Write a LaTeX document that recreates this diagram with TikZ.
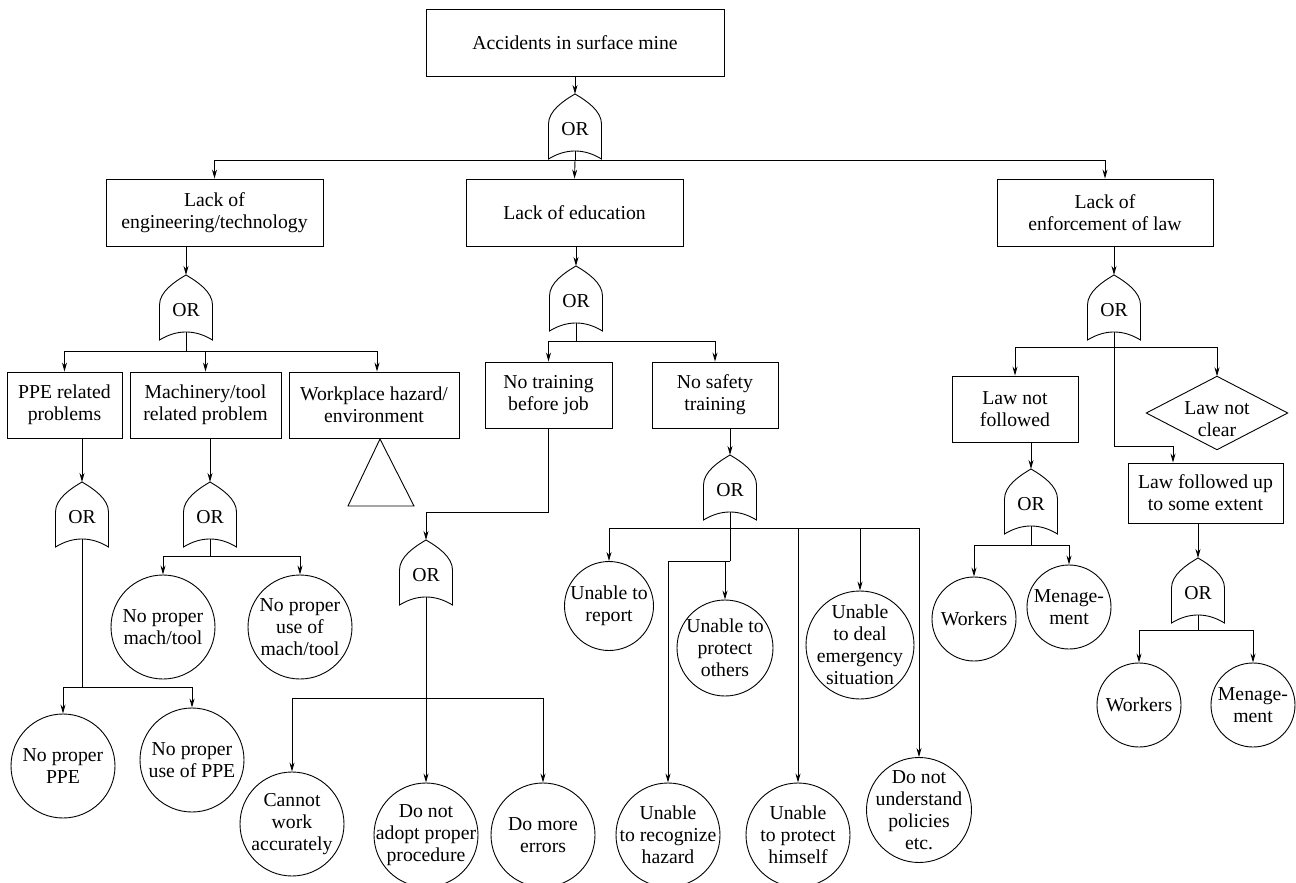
\documentclass[tikz,border=0pt]{standalone}
\usepackage{fontspec}
\setmainfont{Liberation Serif}
\newfontfamily\tms{Liberation Serif}
\usetikzlibrary{arrows.meta,calc}
\newcommand\fs{\tms\fontsize{19.8}{22}\selectfont}
\tikzset{
  ln/.style={line width=0.9bp},
  arr/.style={ln,-{Stealth[length=9bp,width=5bp]}},
  bx/.style={draw, ln, align=center, inner sep=0pt, font=\fs},
  evc/.style={draw, ln, circle, inner sep=0pt},
  evt/.style={align=center, inner sep=0pt, font=\fs},
  gtxt/.style={inner sep=0pt, font=\fs},
  orgate/.pic={
    \draw[ln] (-26.5,65) -- (-26.5,30) .. controls (-26.5,17) and (-12,7) .. (0,0)
      .. controls (12,7) and (26.5,17) .. (26.5,30) -- (26.5,65)
      .. controls (9,54.3) and (-9,54.3) .. cycle;
    \node[gtxt] (-lbl) at (0,35) {OR};
    \coordinate (-top) at (0,0);
    \coordinate (-bot) at (0,57);
  }
}
\begin{document}
\begin{tikzpicture}[x=1bp,y=-1bp]
\useasboundingbox (0,0) rectangle (1296,883);
\fill[white] (0,0) rectangle (1296,883);

% ---------- boxes ----------
\node[bx, minimum width=298bp, minimum height=67bp] (top) at (575,42.5) {Accidents in surface mine};
\node[bx, minimum width=217bp, minimum height=67bp] (eng) at (214.5,212.5) {Lack of\\engineering/technology};
\node[bx, minimum width=217bp, minimum height=67bp] (edu) at (574.5,212.5) {Lack of education};
\node[bx, minimum width=216bp, minimum height=67bp] (enf) at (1105,212.5) {Lack of\\enforcement of law};
\node[bx, minimum width=115bp, minimum height=66bp] (ppe) at (64.5,405) {PPE related\\problems};
\node[bx, minimum width=151bp, minimum height=66bp] (mach) at (205.5,405) {Machinery/tool\\related problem};
\node[bx, minimum width=170bp, minimum height=66bp] (work) at (374,405) {Workplace hazard/\\environment};
\node[bx, minimum width=127bp, minimum height=66bp] (ntr) at (548.5,395) {No training\\before job};
\node[bx, minimum width=126bp, minimum height=66bp] (nst) at (715,395) {No safety\\training};
\node[bx, minimum width=126bp, minimum height=66bp] (lnf) at (1015,409) {Law not\\followed};
\node[bx, minimum width=155bp, minimum height=60bp] (lfu) at (1205.5,493) {Law followed up\\to some extent};

% diamond
\node[minimum width=141bp, minimum height=73bp, inner sep=0pt] (lnc) at (1217,413) {};
\draw[ln] (lnc.north) -- (lnc.east) -- (lnc.south) -- (lnc.west) -- cycle;
\node[evt] (lnct) at ([yshift=-6bp]lnc.center) {Law not\\clear};

% triangle (transfer)
\coordinate (tri) at (380,439);
\draw[ln] (tri) -- ++(-32,67) -- ++(66,0) -- cycle;

% ---------- gates ----------
\pic (g0) at (575,94) {orgate};
\pic (g1) at (186,275) {orgate};
\pic (g2) at (82,482) {orgate};
\pic (g3) at (210,482) {orgate};
\pic (g4) at (576,266) {orgate};
\pic (g5) at (426,540) {orgate};
\pic (g6) at (730,455) {orgate};
\pic (g7) at (1114,275) {orgate};
\pic (g8) at (1031,469) {orgate};
\pic (g9) at (1198,558) {orgate};

% ---------- events (circles) ----------
\node[evc, minimum size=104bp] (c1) at (163,627) {};
\node[evt] (c1t) at (c1) {No proper\\mach/tool};
\node[evc, minimum size=104bp] (c2) at (300,627) {};
\node[evt] (c2t) at (c2) {No proper\\use of\\mach/tool};
\node[evc, minimum size=104bp] (c3) at (63,766) {};
\node[evt] (c3t) at (c3) {No proper\\PPE};
\node[evc, minimum size=104bp] (c4) at (192,760) {};
\node[evt] (c4t) at (c4) {No proper\\use of PPE};
\node[evc, minimum size=104bp] (c5) at (292,824) {};
\node[evt] (c5t) at (c5) {Cannot\\work\\accurately};
\node[evc, minimum size=104bp] (c6) at (426,835) {};
\node[evt] (c6t) at (c6) {Do not\\adopt proper\\procedure};
\node[evc, minimum size=104bp] (c7) at (543,835) {};
\node[evt] (c7t) at (c7) {Do more\\errors};
\node[evc, minimum size=89bp] (c8) at (609,606) {};
\node[evt] (c8t) at (c8) {Unable to\\report};
\node[evc, minimum size=96bp] (c9) at (725,648) {};
\node[evt] (c9t) at (c9) {Unable to\\protect\\others};
\node[evc, minimum size=104bp] (c10) at (668,835) {};
\node[evt] (c10t) at (c10) {Unable\\to recognize\\hazard};
\node[evc, minimum size=104bp] (c11) at (798,835) {};
\node[evt] (c11t) at (c11) {Unable\\to protect\\himself};
\node[evc, minimum size=108bp] (c12) at (860,645) {};
\node[evt] (c12t) at (c12) {Unable\\to deal\\emergency\\situation};
\node[evc, minimum size=105bp] (c13) at (919,810) {};
\node[evt] (c13t) at (c13) {Do not\\understand\\policies\\etc.};
\node[evc, minimum size=84bp] (c14) at (974,619) {};
\node[evt] (c14t) at (c14) {Workers};
\node[evc, minimum size=84bp] (c15) at (1069,607) {};
\node[evt] (c15t) at (c15) {Menage-\\ment};
\node[evc, minimum size=84bp] (c16) at (1139,705) {};
\node[evt] (c16t) at (c16) {Workers};
\node[evc, minimum size=84bp] (c17) at (1253,705) {};
\node[evt] (c17t) at (c17) {Menage-\\ment};

% ---------- bus coordinates ----------
\coordinate (b0) at (575,160);
\coordinate (b1) at (186,351);
\coordinate (b2) at (82,687);
\coordinate (b3) at (210,556);
\coordinate (b4) at (576,341);
\coordinate (b5) at (426,698);
\coordinate (b6) at (730,528);
\coordinate (j6) at (730,561);
\coordinate (b7) at (1114,347);
\coordinate (j7) at (1114,446);
\coordinate (b8) at (1031,545);
\coordinate (b9) at (1198,630);

% ---------- connectors ----------
\draw[arr] (top.south) -- (g0-top);
\draw[ln] (g0-bot) -- (b0);
\draw[arr] (b0) -| (eng.north);
\draw[arr] (b0) -| (enf.north);
\draw[arr] (b0) -- (edu.north);

\draw[arr] (eng.south -| g1-top) -- (g1-top);
\draw[ln] (g1-bot) -- (b1);
\draw[arr] (b1) -| (ppe.north);
\draw[arr] (b1) -| (mach.north);
\draw[arr] (b1) -| ([xshift=3bp]work.north);

\draw[arr] (ppe.south -| g2-top) -- (g2-top);
\draw[ln] (g2-bot) -- (b2);
\draw[arr] (b2) -| (c3.north);
\draw[arr] (b2) -| (c4.north);

\draw[arr] (mach.south -| g3-top) -- (g3-top);
\draw[ln] (g3-bot) -- (b3);
\draw[arr] (b3) -| (c1.north);
\draw[arr] (b3) -| (c2.north);

\draw[arr] (edu.south -| g4-top) -- (g4-top);
\draw[ln] (g4-bot) -- (b4);
\draw[arr] (b4) -| (ntr.north);
\draw[arr] (b4) -| (nst.north);

\draw[arr] (ntr.south) -- ++(0,84) -| (g5-top);
\draw[ln] (g5-bot) -- (b5);
\draw[arr] (b5) -| (c5.north);
\draw[arr] (b5) -- (c6.north);
\draw[arr] (b5) -| (c7.north);

\draw[arr] (nst.south -| g6-top) -- (g6-top);
\draw[ln] (g6-bot) -- (b6);
\draw[arr] (b6) -| (c8.north);
\draw[arr] (b6) -| (c13.north);
\draw[arr] (b6 -| c11.north) -- (c11.north);
\draw[arr] (b6 -| c12.north) -- (c12.north);
\draw[ln] (b6) -- (j6);
\draw[arr] (j6) -| (c10.north);
\draw[arr] (j6 -| c9.north) -- (c9.north);

\draw[arr] (enf.south -| g7-top) -- (g7-top);
\draw[ln] (g7-bot) -- (b7);
\draw[arr] (b7) -| (lnf.north);
\draw[arr] (b7) -| (lnc.north);
\draw[ln] (b7) -- (j7);
\draw[arr] (j7) -| ([xshift=-32.5bp]lfu.north);

\draw[arr] (lnf.south -| g8-top) -- (g8-top);
\draw[ln] (g8-bot) -- (b8);
\draw[arr] (b8) -| (c14.north);
\draw[arr] (b8) -| (c15.north);

\draw[arr] (lfu.south -| g9-top) -- (g9-top);
\draw[ln] (g9-bot) -- (b9);
\draw[arr] (b9) -| (c16.north);
\draw[arr] (b9) -| (c17.north);
\end{tikzpicture}
\end{document}
